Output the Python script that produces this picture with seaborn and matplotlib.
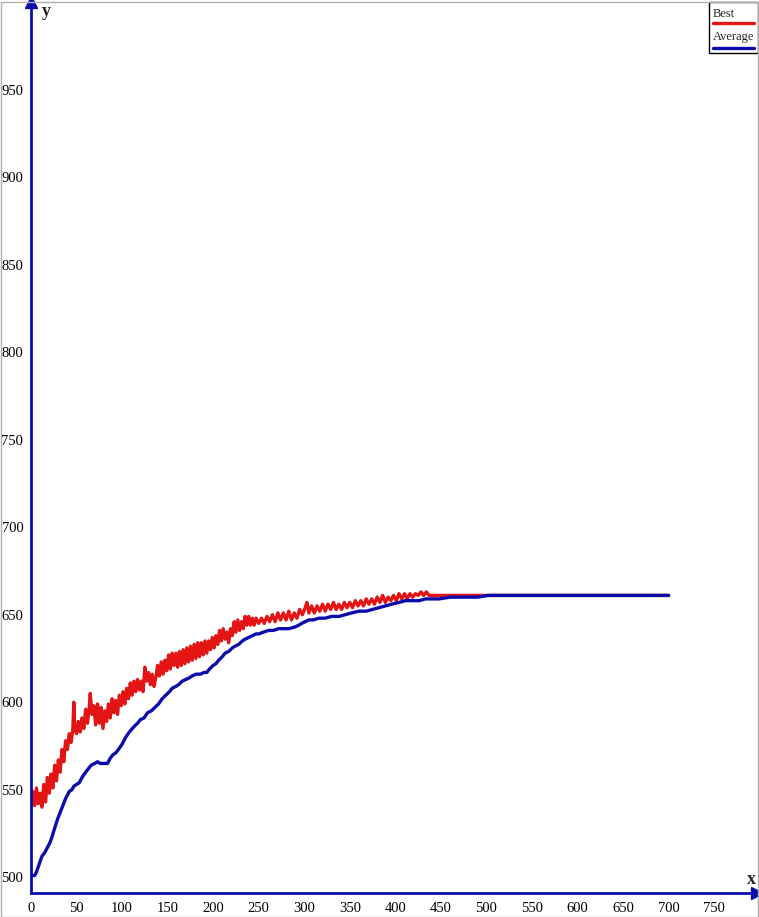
import matplotlib
matplotlib.use("Agg")
import matplotlib.pyplot as plt
from matplotlib.patches import Rectangle
from matplotlib.lines import Line2D
import seaborn as sns
import pandas as pd

# Best fitness per generation
best_gen = [0, 2, 4, 6, 8, 10, 12, 14, 16, 18, 20, 22, 24, 26, 28, 30, 32, 34, 36, 38,
            40, 42, 44, 46, 47, 48, 50, 52, 54, 56, 58, 60, 62, 64, 65, 67, 69, 71, 73, 75,
            77, 79, 81, 83, 85, 87, 89, 91, 93, 95, 97, 99, 101, 103, 105, 107, 109, 111, 113, 115,
            117, 119, 121, 123, 125, 127, 129, 131, 133, 135, 137, 139, 141, 143, 145, 147, 149, 151, 153, 155,
            157, 159, 161, 163, 165, 167, 169, 171, 173, 175, 177, 179, 181, 183, 185, 187, 189, 191, 193, 195,
            197, 199, 201, 203, 205, 207, 209, 211, 213, 215, 217, 219, 221, 223, 225, 227, 229, 231, 233, 235,
            237, 239, 241, 243, 245, 247, 250, 253, 256, 259, 262, 265, 268, 271, 274, 277, 280, 283, 286, 289,
            292, 295, 298, 301, 303, 305, 308, 311, 314, 317, 320, 323, 326, 329, 332, 335, 338, 341, 344, 347,
            350, 353, 356, 359, 362, 365, 368, 371, 374, 377, 380, 383, 386, 389, 392, 395, 398, 401, 404, 407,
            410, 413, 416, 419, 422, 425, 428, 431, 434, 437, 440, 700]
best_val = [539, 549, 541, 551, 542, 548, 540, 553, 543, 557, 548, 559, 551, 564, 555, 567, 560, 573, 566, 578,
            573, 582, 577, 585, 600, 585, 582, 589, 583, 591, 585, 596, 588, 597, 605, 593, 598, 587, 599, 588,
            597, 585, 595, 589, 599, 591, 602, 594, 601, 593, 604, 598, 606, 599, 608, 602, 611, 604, 612, 606,
            613, 607, 612, 606, 620, 612, 617, 610, 616, 609, 614, 621, 615, 623, 616, 624, 618, 627, 619, 628,
            621, 628, 620, 629, 621, 630, 622, 631, 623, 632, 624, 633, 625, 634, 626, 634, 627, 635, 628, 635,
            630, 637, 631, 638, 633, 641, 635, 642, 636, 640, 634, 642, 638, 646, 640, 647, 641, 646, 642, 649,
            644, 649, 644, 648, 644, 648, 645, 648, 645, 649, 646, 650, 646, 651, 647, 651, 647, 652, 647, 651,
            648, 653, 650, 654, 657, 651, 655, 651, 655, 652, 656, 652, 656, 653, 657, 653, 656, 653, 657, 654,
            657, 654, 658, 655, 658, 655, 659, 656, 659, 656, 660, 657, 661, 657, 660, 658, 661, 658, 662, 659,
            662, 659, 662, 660, 662, 661, 663, 661, 663, 661, 661, 661]

# Average fitness per generation
avg_gen = [0, 4, 6, 8, 12, 15, 18, 21, 23, 26, 29, 32, 35, 38, 42, 45, 47, 50, 53, 56,
           60, 63, 66, 70, 73, 76, 80, 84, 87, 90, 93, 96, 100, 104, 108, 113, 117, 120, 124, 128,
           132, 136, 140, 144, 148, 152, 155, 159, 162, 166, 170, 174, 177, 181, 186, 190, 193, 196, 200, 203,
           206, 210, 213, 217, 221, 224, 228, 232, 235, 239, 243, 247, 250, 255, 261, 266, 272, 278, 283, 290,
           294, 297, 301, 305, 310, 316, 323, 330, 338, 345, 352, 360, 368, 375, 382, 389, 396, 404, 411, 418,
           426, 433, 440, 448, 460, 477, 490, 502, 515, 530, 700]
avg_val = [501, 501, 503, 506, 512, 514, 517, 520, 523, 528, 533, 537, 541, 545, 549, 550, 552, 553, 554, 557,
           560, 562, 564, 565, 566, 565, 565, 565, 568, 570, 571, 573, 576, 580, 583, 586, 588, 590, 591, 594,
           595, 597, 599, 602, 604, 606, 608, 609, 610, 612, 613, 614, 615, 616, 616, 617, 617, 619, 621, 622,
           624, 626, 628, 629, 631, 632, 633, 635, 636, 637, 638, 639, 639, 640, 641, 641, 642, 642, 642, 643,
           644, 645, 646, 647, 647, 648, 648, 649, 649, 650, 651, 652, 652, 653, 654, 655, 656, 657, 658, 658,
           658, 659, 659, 659, 660, 660, 660, 661, 661, 661, 661]

y_ticks = [500, 550, 600, 650, 700, 750, 800, 850, 900, 950]
x_ticks = [0, 50, 100, 150, 200, 250, 300, 350, 400, 450, 500, 550, 600, 650, 700, 750]

RED = "#e21414"
BLUE = "#0c0caa"

sns.set_style("white")
plt.rcParams["font.family"] = ["Liberation Serif", "DejaVu Serif"]

df = pd.concat([
    pd.DataFrame({"x": best_gen, "y": best_val, "series": "Best"}),
    pd.DataFrame({"x": avg_gen, "y": avg_val, "series": "Average"}),
])

fig = plt.figure(figsize=(7.59, 9.17), dpi=100)
ax = fig.add_axes([31 / 759, 24 / 917, 726 / 759, 891 / 917])

sns.lineplot(data=df, x="x", y="y", hue="series", hue_order=["Best", "Average"],
             palette={"Best": RED, "Average": BLUE}, estimator=None, sort=False,
             linewidth=2.4, legend=False, ax=ax)

ax.set_xlim(0, 797)
ax.set_ylim(491, 1000)
ax.set_xticks(x_ticks)
ax.set_yticks(y_ticks)
ax.set_xlabel("")
ax.set_ylabel("")

for side in ["top", "right"]:
    ax.spines[side].set_visible(False)
for side in ["left", "bottom"]:
    ax.spines[side].set_color(BLUE)
    ax.spines[side].set_linewidth(2.0)

ax.tick_params(axis="both", direction="inout", length=9, width=1.2, color=BLUE,
               labelsize=10.5, labelcolor="black")
ax.tick_params(axis="x", pad=2)
ax.tick_params(axis="y", pad=1)

# arrow heads
ax.plot([1], [0], marker=">", color=BLUE, markersize=8, transform=ax.transAxes, clip_on=False)
ax.plot([0], [1], marker="^", color=BLUE, markersize=8, transform=ax.transAxes, clip_on=False)

# axis names
fig.text(751 / 759, 1 - 879 / 917, "x", fontsize=13, fontweight="bold", ha="center", va="center")
fig.text(46 / 759, 1 - 11 / 917, "y", fontsize=13, fontweight="bold", ha="center", va="center")

# legend box
fig.add_artist(Rectangle((709 / 759, 1 - 53 / 917), 49 / 759, 51 / 917, transform=fig.transFigure,
                         facecolor="white", edgecolor="black", linewidth=1))
fig.text(713 / 759, 1 - 14 / 917, "Best", fontsize=9, ha="left", va="center")
fig.add_artist(Line2D([713 / 759, 754 / 759], [1 - 23 / 917, 1 - 23 / 917], transform=fig.transFigure,
                      color=RED, linewidth=2.4))
fig.text(713 / 759, 1 - 37 / 917, "Average", fontsize=9, ha="left", va="center")
fig.add_artist(Line2D([713 / 759, 754 / 759], [1 - 48 / 917, 1 - 48 / 917], transform=fig.transFigure,
                      color=BLUE, linewidth=2.4))

# thin grey frame round the picture
fig.add_artist(Rectangle((0.5 / 759, 0.5 / 917), 757.5 / 759, 915 / 917, transform=fig.transFigure,
                         facecolor="none", edgecolor="#b0b0b0", linewidth=1))

fig.savefig("out.png", dpi=100)
